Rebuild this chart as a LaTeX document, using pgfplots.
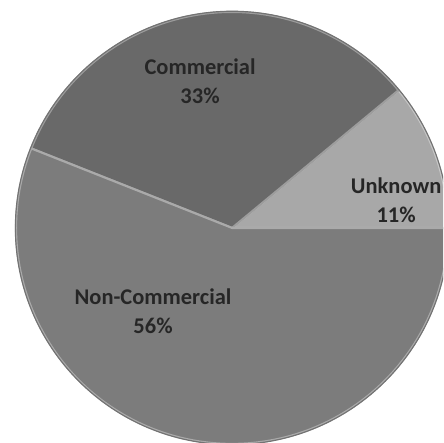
\documentclass[border=0pt]{standalone}
\usepackage{pgfplots}
\pgfplotsset{compat=1.18}
\usepackage{fontspec}
\setmainfont{Carlito}

\definecolor{com}{HTML}{696969}
\definecolor{non}{HTML}{7C7C7C}
\definecolor{unk}{HTML}{A8A8A8}

% #1 start (%), #2 share (%), #3 colour, #4 label, #5/#6 label position
\newcommand{\slice}[6]{%
  \fill[#3, draw=white!35!#3, line width=1.1pt, line join=round]
    (axis cs:232,215) -- ++({3.6*#1}:3.888cm)
    arc[start angle={3.6*#1}, end angle={3.6*(#1+#2)}, radius=3.888cm] -- cycle;
  \node[align=center, font=\bfseries\fontsize{11.5}{15}\selectfont, text=black!85]
    at (axis cs:#5,#6) {#4\\#2\%};
}

\begin{document}
\begin{tikzpicture}
\begin{axis}[x=0.018cm, y=0.018cm, xmin=0, xmax=443, ymin=0, ymax=443,
  hide axis, clip=true, anchor=south west, at={(0,0)}]
\slice{0}{11}{unk}{Unknown}{396}{243}
\slice{11}{33}{com}{Commercial}{200}{362}
\slice{44}{56}{non}{Non-Commercial}{153}{132}
\draw[black!55, line width=0.6pt] (axis cs:232,215) circle[radius=3.9cm];
\end{axis}
\pgfresetboundingbox
\path (0,0) rectangle (7.974cm,7.974cm);
\end{tikzpicture}
\end{document}
